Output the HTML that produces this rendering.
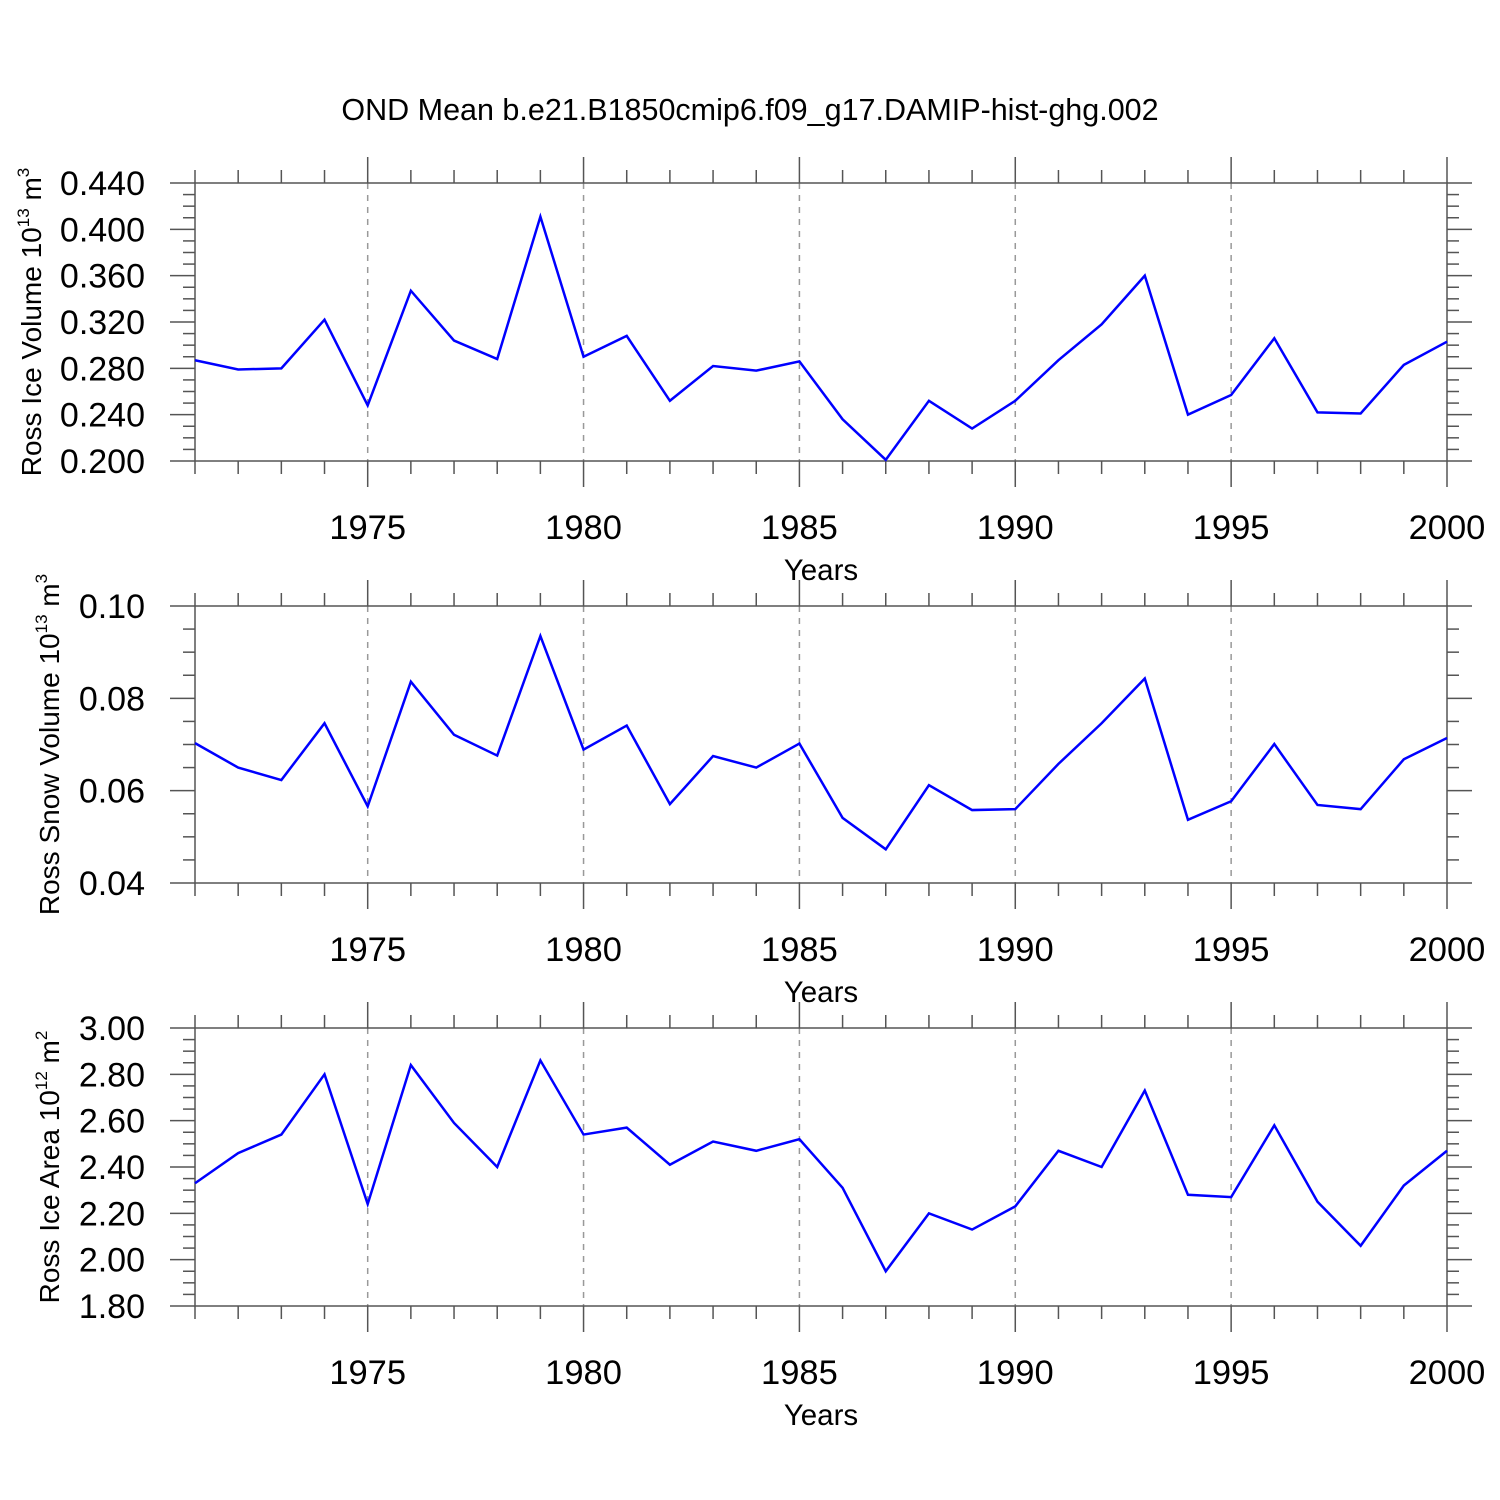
<!DOCTYPE html>
<html><head><meta charset="utf-8"><style>
html,body{margin:0;padding:0;background:#fff}
svg{display:block;font-family:"Liberation Sans",sans-serif}
</style></head><body>
<svg id="chart" width="1500" height="1500" viewBox="0 0 1500 1500">
<text x="750" y="120" font-size="30.5" text-anchor="middle">OND Mean b.e21.B1850cmip6.f09_g17.DAMIP-hist-ghg.002</text>
</svg>
<script>
const years = [1971,1972,1973,1974,1975,1976,1977,1978,1979,1980,1981,1982,1983,1984,1985,1986,1987,1988,1989,1990,1991,1992,1993,1994,1995,1996,1997,1998,1999,2000];
const iceVolume = [0.287,0.279,0.280,0.322,0.248,0.347,0.304,0.288,0.411,0.290,0.308,0.252,0.282,0.278,0.286,0.236,0.201,0.252,0.228,0.252,0.287,0.318,0.360,0.240,0.257,0.306,0.242,0.241,0.283,0.303];
const snowVolume = [0.0703,0.0650,0.0623,0.0746,0.0566,0.0836,0.0721,0.0676,0.0935,0.0689,0.0741,0.0571,0.0675,0.0650,0.0702,0.0541,0.0473,0.0612,0.0558,0.0560,0.0658,0.0746,0.0843,0.0537,0.0577,0.0701,0.0569,0.0560,0.0668,0.0714];
const iceArea = [2.33,2.46,2.54,2.80,2.24,2.84,2.59,2.40,2.86,2.54,2.57,2.41,2.51,2.47,2.52,2.31,1.95,2.20,2.13,2.23,2.47,2.40,2.73,2.28,2.27,2.58,2.25,2.06,2.32,2.47];
const xTicks = [1975,1980,1985,1990,1995,2000];
const ticks1 = [0.200,0.240,0.280,0.320,0.360,0.400,0.440];
const ticks2 = [0.04,0.06,0.08,0.10];
const ticks3 = [1.80,2.00,2.20,2.40,2.60,2.80,3.00];

const NS='http://www.w3.org/2000/svg';
const svg=document.getElementById('chart');
function mk(tag,attrs,parent){const e=document.createElementNS(NS,tag);for(const k in attrs)e.setAttribute(k,attrs[k]);(parent||svg).appendChild(e);return e;}
const X0=195,X1=1447,Y0=1971,Y1=2000;
function xs(y){return X0+(y-Y0)/(Y1-Y0)*(X1-X0);}

function panel(id,top,bot,ymin,ymax,ticks,minorStep,dec,vals,titleParts,titleX){
  const g=mk('g',{});
  
  
  const ys=v=>bot-(v-ymin)/(ymax-ymin)*(bot-top);
  xTicks.forEach(t=>{if(t<Y1){const l=mk('line',{x1:xs(t),x2:xs(t),y1:top,y2:bot,stroke:'#999','stroke-width':1.5,'stroke-dasharray':'6,6'},g);
    
    }});
  const fr=mk('rect',{x:X0,y:top,width:X1-X0,height:bot-top,fill:'none',stroke:'#555','stroke-width':1.5},g);
  
  
  for(let y=Y0;y<=Y1;y++){const maj=y%5===0;const L=maj?26:13;const x=xs(y);
    mk('line',{x1:x,x2:x,y1:top,y2:top-L,stroke:'#555','stroke-width':1.5},g);
    mk('line',{x1:x,x2:x,y1:bot,y2:bot+L,stroke:'#555','stroke-width':1.5},g);}
  xTicks.forEach(t=>{const tx=mk('text',{x:xs(t),y:bot+78,'font-size':34.5,'text-anchor':'middle'},g);tx.textContent=t;
    
    });
  const xt=mk('text',{x:821,y:bot+119,'font-size':29.5,'text-anchor':'middle'},g);xt.textContent='Years';
  
  
  const n=Math.round((ymax-ymin)/minorStep);
  for(let i=0;i<=n;i++){const v=ymin+i*minorStep;const maj=i%4===0;const L=maj?25:12;const y=ys(v);
    mk('line',{x1:X0,x2:X0-L,y1:y,y2:y,stroke:'#555','stroke-width':1.5},g);
    mk('line',{x1:X1,x2:X1+L,y1:y,y2:y,stroke:'#555','stroke-width':1.5},g);}
  ticks.forEach(v=>{const tx=mk('text',{x:145,y:ys(v)+12,'font-size':34,'text-anchor':'end'},g);tx.textContent=v.toFixed(dec);
    
    });
  const cy=(top+bot)/2;
  const yt=mk('text',{x:titleX,y:cy,'font-size':28,'text-anchor':'middle',transform:`rotate(-90 ${titleX} ${cy})`},g);
  
  
  const a=mk('tspan',{},yt);a.textContent=titleParts[0];
  const b=mk('tspan',{'font-size':17,dy:-12},yt);b.textContent=titleParts[1];
  const c=mk('tspan',{dy:12},yt);c.textContent=' m';
  const d=mk('tspan',{'font-size':17,dy:-12},yt);d.textContent=titleParts[2];
}
function line(top,bot,ymin,ymax,vals){
  const ys=v=>bot-(v-ymin)/(ymax-ymin)*(bot-top);
  const pts=vals.map((v,i)=>xs(years[i])+','+ys(v)).join(' ');
  const pl=mk('polyline',{points:pts,fill:'none',stroke:'#0000ff','stroke-width':2.5},svg);
  
  
}
panel('ice-volume',183,461,0.2,0.44,ticks1,0.01,3,iceVolume,['Ross Ice Volume 10','13','3'],41);
panel('snow-volume',606,883,0.04,0.10,ticks2,0.005,2,snowVolume,['Ross Snow Volume 10','13','3'],59);
panel('ice-area',1028,1306,1.8,3.0,ticks3,0.05,2,iceArea,['Ross Ice Area 10','12','2'],59);
line(183,461,0.2,0.44,iceVolume);
line(606,883,0.04,0.10,snowVolume);
line(1028,1306,1.8,3.0,iceArea);
</script>
</body></html>
